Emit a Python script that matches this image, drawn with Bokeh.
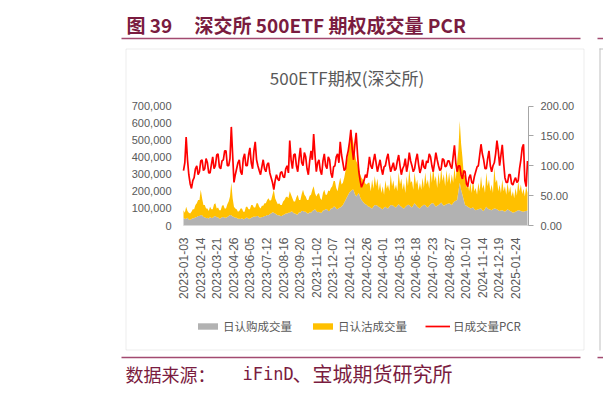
import numpy as np
from bokeh.plotting import figure
from bokeh.models import (Range1d, LinearAxis, FixedTicker, NumeralTickFormatter, Label,
                          BoxAnnotation, Legend, LegendItem, ColumnDataSource)
from bokeh.embed import file_html
from bokeh.resources import INLINE

# ---------------- data ----------------
tick_labels = ["2023-01-03", "2023-02-14", "2023-03-21", "2023-04-26", "2023-06-05",
               "2023-07-12", "2023-08-16", "2023-09-20", "2023-11-02", "2023-12-07",
               "2024-01-12", "2024-02-26", "2024-04-01", "2024-05-13", "2024-06-18",
               "2024-07-23", "2024-08-27", "2024-10-10", "2024-11-14", "2024-12-19",
               "2025-01-24"]
label_every = 25      # trading days between category labels
sample_every = 2      # trading days between the samples below
last_day = 519.5      # last trading-day slot on the category axis

# daily PCR (right axis), one value every 2 trading days
pcr = [92, 105, 148, 110, 85, 70, 62, 75, 80, 95, 100, 85, 90, 108, 110, 92, 95, 112, 105, 88,
       88, 102, 115, 95, 100, 118, 120, 98, 95, 108, 110, 125, 125, 100, 100, 112, 165, 118, 72, 85,
       95, 105, 110, 90, 85, 112, 120, 100, 100, 118, 130, 105, 95, 125, 140, 110, 100, 92, 85, 98,
       110, 95, 90, 102, 105, 88, 80, 72, 60, 75, 85, 78, 75, 88, 90, 82, 80, 95, 100, 88,
       142, 110, 95, 118, 120, 100, 90, 112, 130, 105, 100, 122, 115, 95, 85, 108, 125, 110, 153, 118,
       90, 105, 110, 92, 85, 108, 120, 100, 95, 115, 110, 88, 80, 98, 100, 115, 120, 105, 140, 118,
       105, 92, 95, 115, 125, 140, 160, 128, 110, 135, 155, 120, 90, 75, 64, 70, 76, 85, 80, 95,
       115, 100, 95, 108, 120, 105, 90, 100, 110, 95, 85, 98, 100, 112, 120, 102, 90, 98, 105, 92,
       95, 108, 118, 100, 85, 95, 100, 112, 90, 102, 122, 108, 100, 90, 95, 110, 120, 102, 88, 96,
       110, 98, 95, 108, 105, 120, 115, 100, 90, 105, 122, 110, 100, 92, 95, 112, 110, 98, 100, 108,
       108, 100, 95, 115, 134, 105, 90, 100, 100, 85, 78, 92, 90, 70, 65, 80, 85, 72, 70, 82,
       90, 98, 100, 118, 136, 120, 110, 95, 95, 112, 125, 100, 90, 100, 105, 120, 142, 125, 100, 118,
       135, 105, 80, 72, 72, 85, 85, 70, 68, 75, 80, 72, 75, 95, 110, 130, 136, 75, 65, 108]

# call volume (thousand contracts)
call_k = [45, 38, 40, 45, 35, 32, 38, 42, 42, 48, 50, 55, 55, 62, 60, 50, 48, 42, 45, 40,
          50, 44, 45, 52, 55, 48, 48, 40, 42, 48, 50, 45, 45, 50, 55, 62, 60, 52, 50, 45,
          45, 40, 40, 38, 42, 36, 38, 45, 45, 40, 40, 46, 48, 52, 50, 56, 55, 48, 45, 50,
          50, 55, 55, 62, 60, 68, 70, 78, 75, 70, 65, 60, 60, 55, 55, 62, 65, 70, 70, 75,
          75, 82, 80, 72, 70, 65, 65, 78, 75, 85, 85, 80, 80, 72, 70, 78, 75, 85, 90, 95,
          85, 78, 80, 75, 75, 88, 90, 95, 95, 85, 85, 100, 100, 110, 110, 98, 95, 102, 105, 112,
          120, 135, 150, 165, 180, 195, 200, 210, 210, 185, 170, 180, 190, 165, 150, 140, 130, 125, 120, 112,
          110, 102, 100, 112, 120, 118, 115, 108, 105, 98, 95, 105, 110, 102, 100, 112, 120, 118, 115, 108,
          105, 115, 125, 115, 110, 102, 100, 108, 115, 122, 120, 112, 105, 118, 130, 120, 110, 104, 100, 110,
          115, 122, 120, 110, 105, 115, 125, 130, 130, 120, 110, 115, 120, 128, 135, 125, 115, 120, 125, 128,
          130, 125, 120, 132, 140, 145, 150, 200, 250, 210, 180, 150, 120, 115, 110, 105, 100, 102, 105, 95,
          90, 92, 95, 98, 100, 90, 85, 98, 110, 100, 95, 92, 90, 95, 100, 98, 95, 90, 85, 88,
          90, 85, 80, 88, 95, 90, 85, 80, 75, 78, 80, 85, 90, 88, 85, 82, 80, 84, 85, 88]

# call + put volume (thousand contracts), top of the stacked area
total_k = [90, 75, 110, 85, 75, 70, 80, 95, 95, 120, 130, 150, 150, 210, 160, 120, 120, 100, 100, 85,
           110, 95, 95, 125, 130, 100, 105, 90, 90, 115, 120, 100, 100, 125, 140, 170, 250, 160, 110, 100,
           95, 80, 85, 100, 100, 80, 80, 110, 110, 95, 95, 120, 120, 105, 105, 130, 130, 110, 100, 115,
           115, 130, 130, 150, 160, 145, 150, 180, 210, 160, 140, 125, 130, 120, 120, 140, 150, 165, 170, 160,
           200, 180, 160, 140, 140, 165, 180, 150, 150, 185, 210, 180, 170, 150, 150, 175, 180, 210, 230, 190,
           170, 185, 190, 160, 150, 190, 210, 180, 180, 205, 200, 220, 230, 260, 260, 220, 200, 245, 280, 240,
           250, 280, 320, 380, 420, 500, 550, 520, 480, 420, 380, 360, 350, 300, 280, 270, 260, 245, 240, 250,
           250, 200, 270, 215, 290, 230, 275, 205, 250, 190, 230, 180, 265, 215, 240, 200, 300, 230, 265, 210,
           240, 200, 310, 240, 275, 210, 250, 190, 290, 230, 330, 250, 260, 210, 310, 240, 270, 205, 250, 210,
           280, 220, 310, 240, 270, 215, 320, 250, 345, 260, 290, 220, 310, 240, 335, 260, 300, 230, 325, 250,
           310, 240, 300, 250, 340, 270, 370, 450, 612, 480, 400, 300, 290, 220, 260, 200, 250, 190, 270, 200,
           220, 180, 250, 200, 290, 215, 240, 190, 310, 230, 270, 200, 240, 190, 340, 250, 270, 200, 240, 190,
           270, 200, 230, 180, 250, 190, 230, 170, 200, 160, 220, 175, 260, 200, 240, 185, 215, 170, 230, 190]

vol_max = 700000
vol_step = 100000
pcr_max = 200
pcr_step = 50

title_text = "500ETF期权(深交所)"
series_names = ["日认购成交量", "日认沽成交量", "日成交量PCR"]
header_num = "图 39"
header_text = "深交所 500ETF 期权成交量 PCR"
source_a = "数据来源："
source_b = "iFinD"
source_c = "、宝城期货研究所"

# ---------------- layout (page pixels) ----------------
W, H = 603, 394
PL, PR, PT, PB = 183.0, 528.0, 105.5, 225.0   # plot area
dpp = last_day / (PR - PL)
vpp = vol_max / (PB - PT)
ppp = pcr_max / (PB - PT)

n = len(pcr)
day = np.arange(n) * sample_every
src = ColumnDataSource(dict(day=day, zero=np.zeros(n),
                            call=np.array(call_k) * 1000.0,
                            total=np.array(total_k) * 1000.0,
                            pcr=np.array(pcr, dtype=float)))

p = figure(width=W, height=H, output_backend="svg", toolbar_location=None, title=None,
           x_range=Range1d(0, W), y_range=Range1d(H, 0),
           x_axis_type=None, y_axis_type=None,
           min_border=0, min_border_left=0, min_border_right=0,
           min_border_top=0, min_border_bottom=0)
p.extra_x_ranges = {"day": Range1d(-PL * dpp, last_day + (W - PR) * dpp)}
p.extra_y_ranges = {"vol": Range1d(-(H - PB) * vpp, vol_max + PT * vpp),
                    "pcr": Range1d(-(H - PB) * ppp, pcr_max + PT * ppp)}
p.outline_line_color = None
p.background_fill_color = "white"
p.border_fill_color = "white"

g = p.varea(x="day", y1="zero", y2="call", source=src, fill_color="#B2B2B2",
            x_range_name="day", y_range_name="vol")
o = p.varea(x="day", y1="call", y2="total", source=src, fill_color="#FFC000",
            x_range_name="day", y_range_name="vol")
r = p.line(x="day", y="pcr", source=src, x_range_name="day", y_range_name="pcr",
           line_color="#FF0000", line_width=1.7)

GRAY_TXT = "#595959"
tick_pos = [i * label_every for i in range(len(tick_labels))]
xa = LinearAxis(x_range_name="day", y_range_name="vol", fixed_location=0, bounds=(0, last_day),
                ticker=FixedTicker(ticks=tick_pos),
                major_label_overrides={t: lab for t, lab in zip(tick_pos, tick_labels)},
                major_label_orientation=np.pi / 2,
                axis_line_color="#D9D9D9", major_tick_line_color=None, minor_tick_line_color=None,
                major_tick_out=0, major_tick_in=0, major_label_standoff=12,
                major_label_text_font="Liberation Sans", major_label_text_font_size="12px",
                major_label_text_color=GRAY_TXT)
p.add_layout(xa, "below")

ya = LinearAxis(x_range_name="day", y_range_name="vol", fixed_location=0, bounds=(0, vol_max),
                ticker=FixedTicker(ticks=list(range(0, vol_max + 1, vol_step))),
                formatter=NumeralTickFormatter(format="0,0"),
                axis_line_color=None, major_tick_line_color=None, minor_tick_line_color=None,
                major_tick_out=0, major_tick_in=0, major_label_standoff=12,
                major_label_text_font="Liberation Sans", major_label_text_font_size="11px",
                major_label_text_color=GRAY_TXT)
p.add_layout(ya, "left")

ra = LinearAxis(x_range_name="day", y_range_name="pcr", fixed_location=last_day, bounds=(0, pcr_max),
                ticker=FixedTicker(ticks=list(range(0, pcr_max + 1, pcr_step))),
                formatter=NumeralTickFormatter(format="0.00"),
                axis_line_color="#A6A6A6", major_tick_line_color="#A6A6A6",
                minor_tick_line_color=None, major_tick_out=5, major_tick_in=0,
                major_label_standoff=7,
                major_label_text_font="Liberation Sans", major_label_text_font_size="11px",
                major_label_text_color=GRAY_TXT)
p.add_layout(ra, "right")

legend = Legend(items=[LegendItem(label=series_names[0], renderers=[g]),
                       LegendItem(label=series_names[1], renderers=[o]),
                       LegendItem(label=series_names[2], renderers=[r])],
                orientation="horizontal", location=(195, H - 334),
                glyph_width=25, glyph_height=8, label_standoff=3, spacing=18,
                padding=0, margin=0, border_line_color=None, background_fill_alpha=0,
                label_text_font="Noto Sans CJK SC", label_text_font_size="11.5px",
                label_text_color=GRAY_TXT, label_height=8)
p.add_layout(legend)

# ---------------- decorations (page pixels) ----------------
MAROON = "#7A1C40"
LINE_M = "#A24A70"
BOX = "#BFBFBF"


def rule(x0, x1, y0, y1, color):
    p.add_layout(BoxAnnotation(left=x0, right=x1, top=y0, bottom=y1,
                               fill_color=color, fill_alpha=1, line_color=None))


def text(x, y, s, size, color, font="Noto Sans CJK SC", style="normal", align="left"):
    p.add_layout(Label(x=x, y=y, text=s, text_align=align, text_baseline="middle",
                       text_font=font, text_font_size=size, text_font_style=style,
                       text_color=color))


text(126, 24, header_num, "19px", MAROON, style="bold")
text(194, 24, header_text, "19px", MAROON, style="bold")
rule(121, 580, 37.3, 38.8, LINE_M)
rule(597, 603, 37.3, 38.8, LINE_M)
p.add_layout(BoxAnnotation(left=125.5, right=583.5, top=48.5, bottom=349.5,
                           fill_alpha=0, line_color=BOX, line_width=1))
rule(599, 600, 48, 350, BOX)
rule(599, 603, 48, 49, BOX)
text(346.5, 77, title_text, "17px", GRAY_TXT, align="center")
rule(121, 580, 356.3, 357.8, LINE_M)
rule(597, 603, 356.3, 357.8, LINE_M)
text(125, 373, source_a, "18px", MAROON)
text(242, 373, source_b, "17px", MAROON, font="DejaVu Sans Mono")
text(292, 373, source_c, "20px", MAROON)

open("out.html", "w").write(file_html(p, INLINE))
